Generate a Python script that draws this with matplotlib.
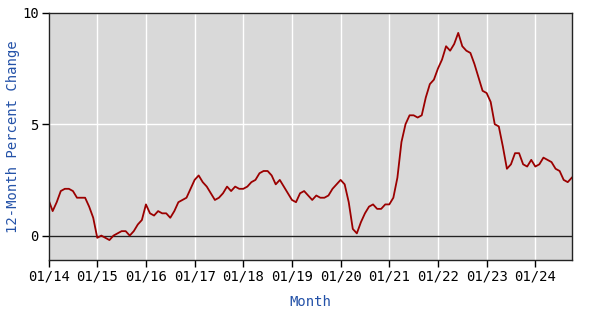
import matplotlib
matplotlib.use("Agg")
import matplotlib.pyplot as plt
import numpy as np

# 12-month percent change, Jan 2014 .. Oct 2024 (monthly)
values_2014 = [1.6, 1.1, 1.5, 2.0, 2.1, 2.1, 2.0, 1.7, 1.7, 1.7, 1.3, 0.8]
values_2015 = [-0.1, 0.0, -0.1, -0.2, 0.0, 0.1, 0.2, 0.2, 0.0, 0.2, 0.5, 0.7]
values_2016 = [1.4, 1.0, 0.9, 1.1, 1.0, 1.0, 0.8, 1.1, 1.5, 1.6, 1.7, 2.1]
values_2017 = [2.5, 2.7, 2.4, 2.2, 1.9, 1.6, 1.7, 1.9, 2.2, 2.0, 2.2, 2.1]
values_2018 = [2.1, 2.2, 2.4, 2.5, 2.8, 2.9, 2.9, 2.7, 2.3, 2.5, 2.2, 1.9]
values_2019 = [1.6, 1.5, 1.9, 2.0, 1.8, 1.6, 1.8, 1.7, 1.7, 1.8, 2.1, 2.3]
values_2020 = [2.5, 2.3, 1.5, 0.3, 0.1, 0.6, 1.0, 1.3, 1.4, 1.2, 1.2, 1.4]
values_2021 = [1.4, 1.7, 2.6, 4.2, 5.0, 5.4, 5.4, 5.3, 5.4, 6.2, 6.8, 7.0]
values_2022 = [7.5, 7.9, 8.5, 8.3, 8.6, 9.1, 8.5, 8.3, 8.2, 7.7, 7.1, 6.5]
values_2023 = [6.4, 6.0, 5.0, 4.9, 4.0, 3.0, 3.2, 3.7, 3.7, 3.2, 3.1, 3.4]
values_2024 = [3.1, 3.2, 3.5, 3.4, 3.3, 3.0, 2.9, 2.5, 2.4, 2.6]

tick_labels = ["01/14", "01/15", "01/16", "01/17", "01/18", "01/19",
               "01/20", "01/21", "01/22", "01/23", "01/24"]

values = (values_2014 + values_2015 + values_2016 + values_2017 + values_2018
          + values_2019 + values_2020 + values_2021 + values_2022 + values_2023
          + values_2024)
months = np.arange(len(values))

mono = "DejaVu Sans Mono"
blue = "#2452a8"

fig = plt.figure(figsize=(6.0, 3.13), dpi=100)
ax = fig.add_axes([0.081, 0.169, 0.872, 0.790])
ax.set_facecolor("#d9d9d9")

ax.set_xlim(0, len(values) - 1)
ax.set_ylim(-1.1, 10)
ax.set_xticks(np.arange(0, len(values), 12))
ax.set_xticklabels(tick_labels, fontfamily=mono, fontsize=10)
ax.set_yticks([0, 5, 10])
ax.set_yticklabels(["0", "5", "10"], fontfamily=mono, fontsize=10)
ax.tick_params(axis="both", direction="out", length=5, width=1, color="black", pad=2)

ax.grid(True, color="white", linewidth=1)
ax.set_axisbelow(True)
ax.axhline(0, color="#222222", linewidth=1)
ax.plot(months, values, color="#9b0000", linewidth=1.3)

for spine in ax.spines.values():
    spine.set_color("#222222")
    spine.set_linewidth(1)

ax.set_xlabel("Month", fontfamily=mono, fontsize=10, color=blue, labelpad=8)
ax.set_ylabel("12-Month Percent Change", fontfamily=mono, fontsize=10, color=blue, labelpad=1.5)

fig.savefig("out.png", dpi=100)
